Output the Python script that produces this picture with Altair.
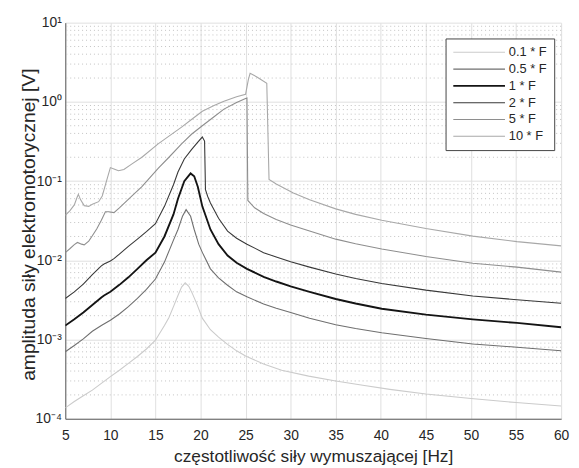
import altair as alt
import pandas as pd

SERIES = ["0.1 * F", "0.5 * F", "1 * F", "2 * F", "5 * F", "10 * F"]
COLORS = ["#cbcbcb", "#6f6f6f", "#141414", "#383838", "#8e8e8e", "#a8a8a8"]
WIDTHS = [1.1, 1.1, 1.9, 1.1, 1.1, 1.1]

F_01 = [5, 6, 7, 8, 9, 10, 11, 12, 13, 14, 15, 16, 16.5, 17, 17.5, 17.9, 18.3,
        18.7, 19.1, 19.6, 20.2, 21.1, 22, 23, 24, 25, 27, 29, 32, 35, 38, 41,
        45, 50, 55, 60]
A_01 = [1.37e-4, 1.65e-4, 1.95e-4, 2.3e-4, 2.8e-4, 3.4e-4, 4.1e-4, 5.0e-4,
        6.1e-4, 7.6e-4, 9.8e-4, 1.5e-3, 1.9e-3, 2.6e-3, 3.6e-3, 4.6e-3, 5.2e-3,
        4.7e-3, 3.8e-3, 2.8e-3, 1.86e-3, 1.33e-3, 1.07e-3, 8.7e-4, 7.2e-4,
        6.2e-4, 4.9e-4, 4.1e-4, 3.45e-4, 3.0e-4, 2.65e-4, 2.35e-4, 2.05e-4,
        1.8e-4, 1.6e-4, 1.45e-4]

F_05 = [5, 6, 7, 8, 9, 10, 11, 12, 13, 14, 15, 16, 17, 17.5, 18, 18.4, 18.9,
        19.3, 19.8, 20.2, 21.1, 22, 23, 24, 25.15, 27, 28.4, 30, 32.1, 35, 37.2,
        40.1, 45, 50.2, 55.1, 60]
A_05 = [7.0e-4, 8.4e-4, 1.02e-3, 1.27e-3, 1.5e-3, 1.75e-3, 2.1e-3, 2.6e-3,
        3.3e-3, 4.3e-3, 5.8e-3, 9.5e-3, 1.8e-2, 2.45e-2, 3.6e-2, 4.36e-2,
        3.6e-2, 2.45e-2, 1.6e-2, 1.26e-2, 7.8e-3, 6.0e-3, 4.84e-3, 4.0e-3,
        3.47e-3, 2.8e-3, 2.48e-3, 2.2e-3, 1.86e-3, 1.54e-3, 1.38e-3, 1.22e-3,
        1.03e-3, 8.8e-4, 8.0e-4, 7.2e-4]

F_1 = [5, 6, 7, 8, 9, 9.3, 10, 11, 12, 13, 14, 15, 16, 17, 17.5, 18.2, 18.9,
       19.3, 19.7, 20.2, 21.1, 22, 23, 24, 25.15, 27, 28.4, 30, 32.1, 35, 37.2,
       40.1, 45, 50.2, 55.1, 60]
A_1 = [1.5e-3, 1.8e-3, 2.2e-3, 2.73e-3, 3.4e-3, 3.6e-3, 4.0e-3, 4.9e-3,
       6.1e-3, 7.8e-3, 1.0e-2, 1.25e-2, 2.0e-2, 3.8e-2, 6.0e-2, 1.0e-1,
       1.25e-1, 1.15e-1, 8.5e-2, 4.8e-2, 2.45e-2, 1.6e-2, 1.15e-2, 9.3e-3,
       7.8e-3, 6.2e-3, 5.4e-3, 4.7e-3, 4.0e-3, 3.25e-3, 2.85e-3, 2.45e-3,
       2.06e-3, 1.8e-3, 1.62e-3, 1.43e-3]

F_2 = [5, 6, 7, 8, 9, 9.3, 10, 10.4, 11, 12, 13, 14, 15, 16, 17, 17.5, 18.2,
       19, 19.7, 20.2, 20.45, 20.55, 20.8, 21.1, 22, 23, 24, 25.15, 27, 28.4,
       30, 32.1, 35, 37.2, 40.1, 45, 50.2, 55.1, 60]
A_2 = [3.3e-3, 4.0e-3, 5.0e-3, 6.6e-3, 8.5e-3, 9.0e-3, 9.8e-3, 1.05e-2,
       1.2e-2, 1.5e-2, 1.85e-2, 2.3e-2, 2.9e-2, 4.8e-2, 9.0e-2, 1.3e-1,
       1.9e-1, 2.5e-1, 3.1e-1, 3.6e-1, 3.2e-1, 7.8e-2, 6.4e-2, 5.3e-2,
       3.4e-2, 2.34e-2, 1.9e-2, 1.6e-2, 1.25e-2, 1.1e-2, 9.6e-3, 8.2e-3,
       6.7e-3, 5.9e-3, 5.1e-3, 4.2e-3, 3.55e-3, 3.18e-3, 2.87e-3]

F_5 = [5, 5.5, 6, 6.35, 6.8, 7.1, 7.6, 8.0, 8.5, 9.0, 9.45, 9.8, 10.4, 11,
       12.4, 13.5, 15.3, 16.5, 17.9, 19, 20.2, 21.5, 22.6, 24, 25.0, 25.15,
       25.25, 26, 27, 28.4, 30, 32.1, 35, 37.2, 40.1, 45, 50.2, 55.1, 60]
A_5 = [0.0125, 0.014, 0.0158, 0.0168, 0.016, 0.0157, 0.0175, 0.0204, 0.025,
       0.032, 0.041, 0.041, 0.040, 0.046, 0.065, 0.085, 0.145, 0.2, 0.295,
       0.39, 0.5, 0.65, 0.81, 0.98, 1.1, 1.12, 0.057, 0.046, 0.039, 0.0328,
       0.028, 0.0234, 0.0185, 0.0162, 0.0139, 0.0112, 0.0092, 0.0082, 0.0071]

F_10 = [5, 5.5, 6.0, 6.3, 6.45, 6.7, 7.1, 7.6, 8.0, 8.7, 9.1, 9.6, 10.0, 10.4,
        10.9, 11.5, 12.4, 13.5, 15.3, 16.5, 17.9, 19, 20.2, 21.5, 22.6, 24,
        25.0, 25.3, 25.5, 26.3, 27.35, 27.6, 28.4, 30.3, 32.1, 35, 37.2, 40.1,
        45, 50.2, 55.1, 60]
A_10 = [0.037, 0.042, 0.05, 0.062, 0.068, 0.058, 0.049, 0.048, 0.051, 0.055,
        0.065, 0.103, 0.148, 0.142, 0.135, 0.14, 0.165, 0.2, 0.295, 0.37,
        0.48, 0.6, 0.76, 0.9, 1.02, 1.16, 1.25, 1.9, 2.3, 2.05, 1.72, 0.105,
        0.092, 0.071, 0.058, 0.0446, 0.038, 0.032, 0.0252, 0.0202, 0.0172,
        0.0152]

X_TICKS = [5, 10, 15, 20, 25, 30, 35, 40, 45, 50, 55, 60]
Y_TICKS = [1e-4, 1e-3, 1e-2, 1e-1, 1, 10]
Y_LABELS = ["10⁻⁴", "10⁻³", "10⁻²", "10⁻¹", "10⁰", "10¹"]
MINOR_MULT = [2, 3, 4, 5, 6, 7, 8, 9]
DECADES = [1e-4, 1e-3, 1e-2, 1e-1, 1]

FS = [F_01, F_05, F_1, F_2, F_5, F_10]
AS = [A_01, A_05, A_1, A_2, A_5, A_10]

rows = []
for name, fs, amps in zip(SERIES, FS, AS):
    for i, (f, a) in enumerate(zip(fs, amps)):
        rows.append({"series": name, "f": f, "A": a, "i": i})
df = pd.DataFrame(rows)
minor_df = pd.DataFrame({"A": [m * d for d in DECADES for m in MINOR_MULT]})

FONT = "Liberation Sans"
TXT = "#262626"
xscale = alt.Scale(domain=[5, 60], nice=False, zero=False)
yscale = alt.Scale(type="log", domain=[1e-4, 10], nice=False)

label_expr = "[" + ",".join("'%s'" % s for s in Y_LABELS) + "][round(log(datum.value)/LN10)+4]"

x_axis = alt.Axis(values=X_TICKS, title="częstotliwość siły wymuszającej [Hz]",
                  grid=True, gridColor="#e0e0e0", ticks=False,
                  domainColor="#5a5a5a", labelFont=FONT, labelFontSize=14,
                  labelColor=TXT, labelPadding=10, titleFont=FONT,
                  titleFontSize=17.5, titleFontWeight="normal",
                  titleColor=TXT, titlePadding=5, labelFlush=False)
y_axis = alt.Axis(values=Y_TICKS, labelExpr=label_expr,
                  title="amplituda siły elektromotorycznej [V]",
                  grid=True, gridColor="#e0e0e0", ticks=False,
                  domainColor="#5a5a5a", labelFont=FONT, labelFontSize=14,
                  labelColor=TXT, labelPadding=4, titleFont=FONT,
                  titleFontSize=19.5, titleFontWeight="normal",
                  titleColor=TXT, titleX=-37, titleY=204, titleBaseline="middle",
                  labelFlush=False)

legend = alt.Legend(title=None, orient="none", legendX=385, legendY=16,
                    padding=7, strokeColor="#444444", fillColor="white",
                    symbolType="M-4.36,0H4.36", symbolSize=144, symbolOffset=20,
                    labelOffset=23, rowPadding=3, labelFont=FONT,
                    labelFontSize=13, labelColor=TXT, cornerRadius=0)

minor = alt.Chart(minor_df).mark_rule(
    color="#c2c2c2", strokeDash=[1, 3], strokeWidth=1
).encode(y=alt.Y("A:Q", scale=yscale, axis=y_axis))

lines = alt.Chart(df).mark_line(clip=True).encode(
    x=alt.X("f:Q", scale=xscale, axis=x_axis),
    y=alt.Y("A:Q", scale=yscale, axis=y_axis),
    color=alt.Color("series:N", sort=SERIES,
                    scale=alt.Scale(domain=SERIES, range=COLORS), legend=legend),
    strokeWidth=alt.StrokeWidth("series:N", sort=SERIES,
                                scale=alt.Scale(type="ordinal", domain=SERIES, range=WIDTHS),
                                legend=legend),
    order="i:Q",
)

chart = alt.layer(minor, lines).properties(
    width=502, height=401,
    autosize=alt.AutoSizeParams(type="none"),
    padding={"left": 58, "top": 12, "right": 10, "bottom": 46},
    background="white",
).configure_view(stroke=None)

chart.save("out.html", embed_options={"renderer": "svg", "actions": False})
